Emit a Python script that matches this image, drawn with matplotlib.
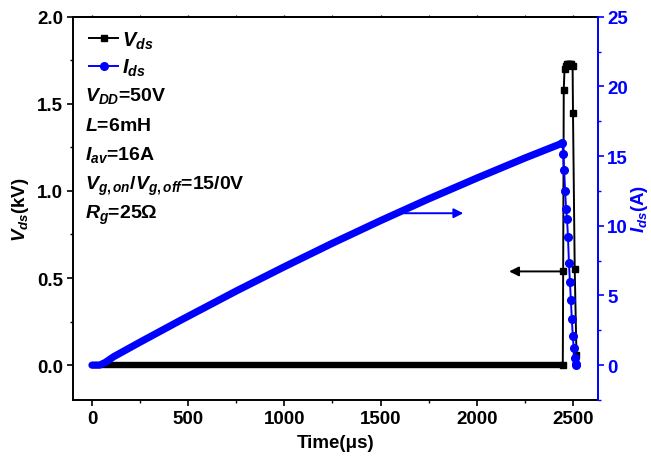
import matplotlib
matplotlib.use("Agg")
import matplotlib.pyplot as plt
from matplotlib.ticker import MultipleLocator, NullFormatter
from matplotlib.lines import Line2D

plt.rcParams['font.family'] = ['Liberation Sans', 'DejaVu Sans']
plt.rcParams['font.weight'] = 'bold'
plt.rcParams['mathtext.fontset'] = 'custom'
plt.rcParams['mathtext.it'] = 'Liberation Sans:italic:bold'
plt.rcParams['mathtext.rm'] = 'Liberation Sans:bold'
plt.rcParams['mathtext.bf'] = 'Liberation Sans:bold'

# ---- data ----
vds_time = [0, 100, 200, 300, 400, 500, 600, 700, 800, 900, 1000, 1100, 1200,
            1300, 1400, 1500, 1600, 1700, 1800, 1900, 2000, 2100, 2200, 2300,
            2400, 2447, 2449, 2452, 2456, 2462, 2468, 2474, 2480, 2486, 2492,
            2498, 2500, 2509, 2518]
vds_kv = [0.0] * 26 + [0.54, 1.58, 1.70, 1.72, 1.73, 1.73, 1.73, 1.73, 1.73,
                       1.72, 1.45, 0.55, 0.06]

ids_time = [0, 40, 70, 112, 250, 458, 750, 1000, 1250, 1500, 1750, 2000, 2250,
            2445,
            2449, 2454, 2459, 2464, 2469, 2474, 2479, 2484, 2489, 2494, 2499,
            2504, 2509, 2514, 2518]
ids_a = [0.0, 0.0, 0.2, 0.6, 1.65, 3.2, 5.32, 7.06, 8.75, 10.37, 11.93, 13.42,
         14.86, 15.93,
         15.15, 14.0, 12.5, 11.2, 10.5, 9.2, 7.3, 6.0, 4.65, 3.3, 2.1, 1.2, 0.5,
         0.1, 0.0]
ramp_end = 14   # number of points in the slow current ramp
flat_end = 26   # number of points in the Vds off-state

info_lines = [r'$V_{DD}$=50V', r'$L$=6mH', r'$I_{av}$=16A',
              r'$V_{g,on}$/$V_{g,off}$=15/0V', r'$R_g$=25Ω']

BLUE = '#0000ff'

fig = plt.figure(figsize=(6.51, 4.64), dpi=100)
ax = fig.add_axes([0.1117, 0.1358, 0.8063, 0.826])
ax2 = ax.twinx()

# Vds (left axis)
ax.plot(vds_time[:flat_end], vds_kv[:flat_end], color='black', lw=4.6,
        solid_capstyle='butt', zorder=2)
ax.plot(vds_time[flat_end - 1:], vds_kv[flat_end - 1:], color='black', lw=1.4,
        marker='s', ms=5, zorder=2)

# Ids (right axis)
ax2.plot(ids_time[:ramp_end], ids_a[:ramp_end], color=BLUE, lw=5.2,
         solid_capstyle='round', solid_joinstyle='round', zorder=3)
ax2.plot(ids_time[ramp_end - 1:], ids_a[ramp_end - 1:], color=BLUE, lw=1.4,
         marker='o', ms=5.5, zorder=3)

ax.set_xlim(-100, 2628)
ax.set_ylim(-0.2, 2.0)
ax2.set_ylim(-2.5, 25)

ax.xaxis.set_major_locator(MultipleLocator(500))
ax.xaxis.set_minor_locator(MultipleLocator(250))
ax.yaxis.set_major_locator(MultipleLocator(0.5))
ax.yaxis.set_minor_locator(MultipleLocator(0.25))
ax2.yaxis.set_major_locator(MultipleLocator(5))
ax2.yaxis.set_minor_locator(MultipleLocator(2.5))

ax.set_yticks([0.0, 0.5, 1.0, 1.5, 2.0])
ax.set_yticklabels(['0.0', '0.5', '1.0', '1.5', '2.0'])

lw_sp = 1.4
for s in ax.spines.values():
    s.set_linewidth(lw_sp)
for s in ax2.spines.values():
    s.set_linewidth(lw_sp)
ax2.spines['right'].set_color(BLUE)
ax2.spines['left'].set_visible(False)
ax2.spines['top'].set_visible(False)
ax2.spines['bottom'].set_visible(False)
ax.spines['right'].set_visible(False)

TS = 13.5
ax.tick_params(axis='both', which='major', direction='out', length=4.5, width=1.2,
               labelsize=TS, pad=2.5)
ax.tick_params(axis='both', which='minor', direction='out', length=2.5, width=1.0)
ax2.tick_params(axis='y', which='major', direction='out', length=4.5, width=1.2,
                labelsize=TS, colors=BLUE, pad=2.5)
ax2.tick_params(axis='y', which='minor', direction='out', length=2.5, width=1.0,
                colors=BLUE)

# tiny ticks on the top spine
top = ax.secondary_xaxis('top')
top.xaxis.set_major_locator(MultipleLocator(500))
top.xaxis.set_minor_locator(MultipleLocator(250))
top.xaxis.set_major_formatter(NullFormatter())
top.tick_params(which='major', direction='out', length=1.8, width=1.0)
top.tick_params(which='minor', direction='out', length=1.2, width=0.8)
top.spines['top'].set_linewidth(lw_sp)

for lab in ax.get_xticklabels() + ax.get_yticklabels() + ax2.get_yticklabels():
    lab.set_fontweight('bold')

ax.set_xlabel('Time(μs)', fontsize=13.5, fontweight='bold', labelpad=5)
ax.set_ylabel(r'$V_{ds}$(kV)', fontsize=13.5, fontweight='bold', labelpad=4)
ax2.set_ylabel(r'$I_{ds}$(A)', fontsize=13.5, fontweight='bold', color=BLUE,
               labelpad=0.5)

# legend
h1 = Line2D([], [], color='black', lw=1.4, marker='s', ms=5)
h2 = Line2D([], [], color=BLUE, lw=1.4, marker='o', ms=5.5)
ax.legend([h1, h2], [r'$V_{ds}$', r'$I_{ds}$'], loc='upper left',
          bbox_to_anchor=(0.012, 0.993), frameon=False, fontsize=14.5,
          handlelength=1.45, handletextpad=0.2, labelspacing=0.3,
          borderaxespad=0.3, borderpad=0.2)

# info text
info_y = [0.782, 0.705, 0.628, 0.551, 0.474]
for txt, yy in zip(info_lines, info_y):
    ax.text(0.023, yy, txt, transform=ax.transAxes, fontsize=14,
            fontweight='bold', va='baseline', ha='left')

# arrows indicating axis
ax2.annotate('', xy=(1930, 10.9), xytext=(1620, 10.9),
             arrowprops=dict(arrowstyle='-|>', color=BLUE, lw=1.4,
                             mutation_scale=14, shrinkA=0, shrinkB=0))
ax.annotate('', xy=(2168, 0.538), xytext=(2449, 0.538),
            arrowprops=dict(arrowstyle='-|>', color='black', lw=1.4,
                            mutation_scale=14, shrinkA=0, shrinkB=0))

fig.savefig('out.png', dpi=100)
